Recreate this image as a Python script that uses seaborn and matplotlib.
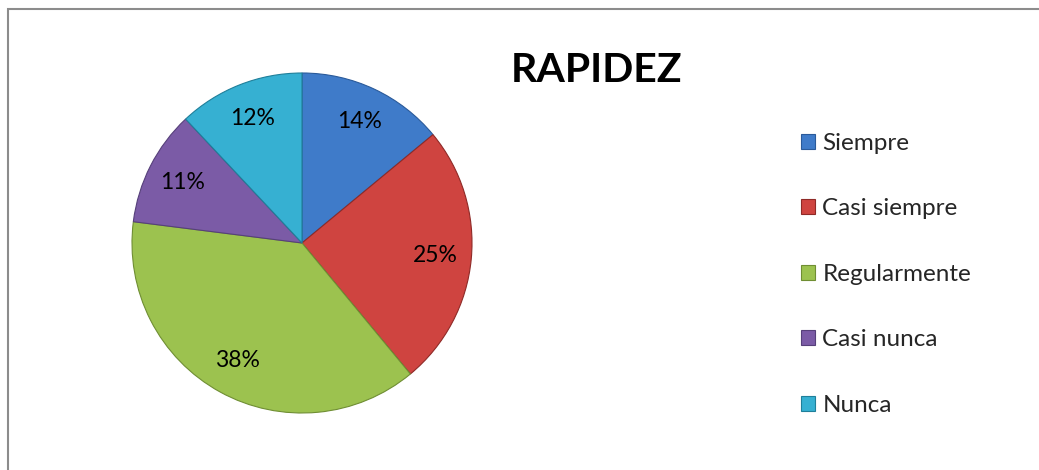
import matplotlib
matplotlib.use("Agg")
import matplotlib.pyplot as plt
import matplotlib.patches as mpatches
import seaborn as sns

# Chart data
categories = ["Siempre", "Casi siempre", "Regularmente", "Casi nunca", "Nunca"]
percentages = [14, 25, 38, 11, 12]
title = "RAPIDEZ"

# Excel 2007 style palette
colors = sns.color_palette(["#3f7bc9", "#cf4440", "#9cc24f", "#7b5ba6", "#36b0d2"])
edge_colors = sns.color_palette(["#2a5a9a", "#8f2a27", "#6f8e33", "#56407a", "#1f7f9a"])

sns.set_theme(style="white")
plt.rcParams['font.family'] = ['Lato', 'DejaVu Sans']

W, H = 1039, 470
fig = plt.figure(figsize=(W / 100, H / 100), dpi=100)
fig.patch.set_facecolor("white")

# Pie axes: centre (302, 243) px, radius 170 px
cx, cy, r = 302, 243, 170
ax = fig.add_axes([(cx - r) / W, (H - cy - r) / H, 2 * r / W, 2 * r / H])

wedges, texts, autotexts = ax.pie(
    percentages,
    colors=colors,
    startangle=90,
    counterclock=False,
    autopct=lambda p: f"{p:.0f}%",
    pctdistance=0.79,
    wedgeprops=dict(linewidth=0.8, edgecolor="#3a3a3a"),
    textprops=dict(fontsize=16.5, color="black"),
)
for w, ec in zip(wedges, edge_colors):
    w.set_edgecolor(ec)
ax.set_xlim(-1, 1)
ax.set_ylim(-1, 1)
ax.set_aspect("equal")
ax.axis("off")

# Title
fig.text(597 / W, 1 - 71 / H, title, ha="center", va="center",
         fontsize=29.5, fontweight="bold", color="black")

# Legend with small square markers
handles = [mpatches.Patch(facecolor=c, edgecolor=ec, linewidth=0.8)
           for c, ec in zip(colors, edge_colors)]
fig.legend(handles, categories, loc="upper left",
           bbox_to_anchor=(801 / W, 1 - 133 / H),
           frameon=False, fontsize=17.5, handlelength=0.58, handleheight=0.58,
           handletextpad=0.3, labelspacing=1.83, borderpad=0, borderaxespad=0)

# Chart area border (top and left visible, right/bottom cropped)
fig.patches.append(mpatches.Rectangle((8 / W, -0.1), 1.2, 1 - 9 / H + 0.1,
                                      transform=fig.transFigure, fill=False,
                                      edgecolor="#8c8c8c", linewidth=1.5))

fig.savefig("out.png", dpi=100)
